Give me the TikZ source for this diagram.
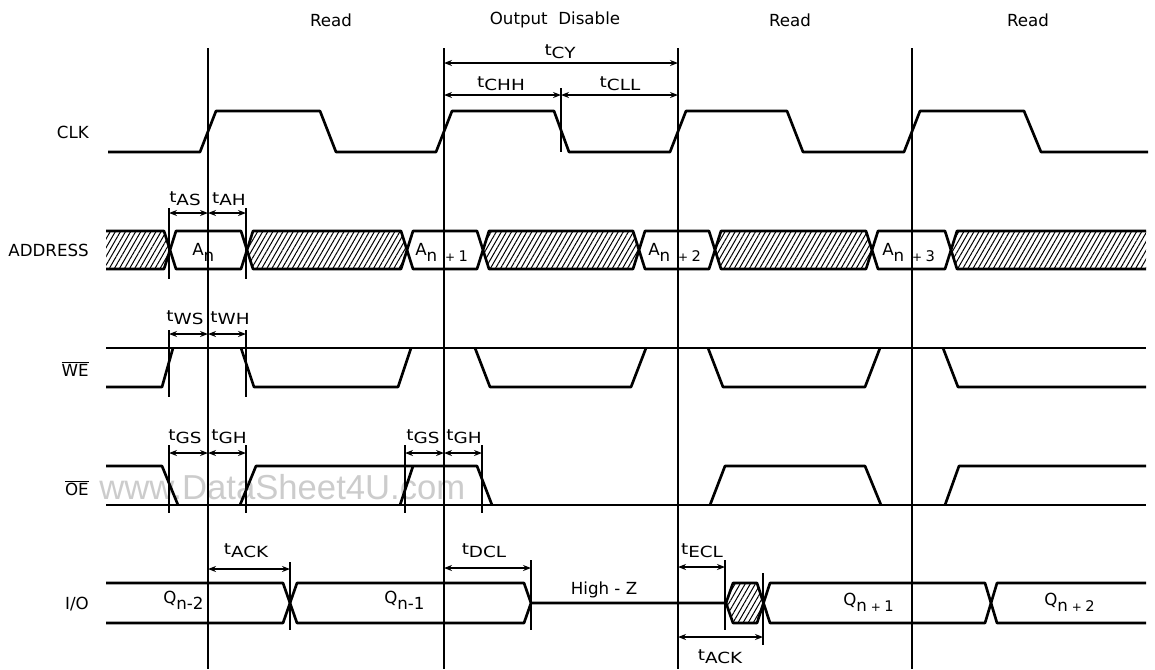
\documentclass[tikz,border=0pt]{standalone}
\usepackage{fontspec}
\setmainfont{DejaVu Sans}
\newfontfamily\tfont[FakeStretch=1.2]{DejaVu Sans}
\newfontfamily\wmfont{Liberation Sans}
\usetikzlibrary{arrows.meta,patterns.meta}
\newcommand\tlb[1]{{\tfont\fontsize{11.5}{11.5}\selectfont\raisebox{2pt}{t}#1}}
\newcommand\vlab[2]{{\fontsize{12.5}{12.5}\selectfont #1\raisebox{-5pt}{#2}}}
\newcommand\vlabp[3]{{\fontsize{12.5}{12.5}\selectfont #1\raisebox{-5pt}{n\hspace{#3}{\fontsize{9}{9}\selectfont+}\hspace{2.5pt}{\fontsize{11}{11}\selectfont #2}}}}
\begin{document}
\begin{tikzpicture}[x=0.75pt,y=-0.75pt,
  sig/.style={line width=2pt,line join=round},
  vline/.style={line width=0.9pt},
  tk/.style={line width=0.8pt},
  dimarr/.style={{Stealth[length=6pt,width=4.5pt]}-{Stealth[length=6pt,width=4.5pt]},line width=1pt},
  lab/.style={font=\fontsize{12.5}{14}\selectfont,inner sep=0pt},
  tl/.style={inner sep=0pt},
  hatch/.style={pattern={Lines[angle=60,distance=3.3pt,line width=0.75pt]}}]
\useasboundingbox (0,0) rectangle (1155,669);
% watermark
\node[anchor=base west,text=black!20,font=\wmfont\fontsize{26}{26}\selectfont,inner sep=0pt] (wm) at (99,499) {www.DataSheet4U.com};
% clock reference lines
\foreach \x/\n in {208/v1,444/v2,678/v3,912/v4}{
  \coordinate (\n t) at (\x,48); \coordinate (\n b) at (\x,669);
  \draw[vline] (\n t) -- (\n b);}
% cycle labels
\node[lab] (r1) at (331,20) {Read};
\node[lab] (od) at (555,20) {Output\ \ Disable};
\node[lab] (r3) at (790,20) {Read};
\node[lab] (r4) at (1028,20) {Read};
% signal names
\node[lab,anchor=east] (nclk) at (89,132) {CLK};
\node[lab,anchor=east] (naddr) at (89,250) {ADDRESS};
\node[lab,anchor=east] (nwe) at (89,369) {$\overline{\mbox{WE}}$};
\node[lab,anchor=east] (noe) at (89,488) {$\overline{\mbox{OE}}$};
\node[lab,anchor=east] (nio) at (89,604) {I/O};
% CLK
\draw[sig] (108,152) -- (200,152) -- (216,111) -- (320,111) -- (336,152) -- (436,152) -- (452,111) -- (554,111) -- (569,152) -- (670,152) -- (686,111) -- (787,111) -- (803,152) -- (904,152) -- (920,111) -- (1024,111) -- (1041,152) -- (1148,152);
\draw[tk] (561,88) -- (561,152);
\draw[dimarr] (444,63) -- (678,63);
\draw[dimarr] (444,95) -- (561,95);
\draw[dimarr] (561,95) -- (678,95);
\node[tl] (tcy) at (560,52) {\tlb{CY}};
\node[tl] (tchh) at (501,84) {\tlb{CHH}};
\node[tl] (tcll) at (620,84) {\tlb{CLL}};
% ADDRESS
\fill[hatch] (106,231) -- (164,231) -- (170,250) -- (164,269) -- (106,269) -- cycle;
\fill[hatch] (247,250) -- (253,231) -- (401,231) -- (407,250) -- (401,269) -- (253,269) -- cycle;
\fill[hatch] (483,250) -- (489,231) -- (633,231) -- (639,250) -- (633,269) -- (489,269) -- cycle;
\fill[hatch] (715,250) -- (721,231) -- (866,231) -- (872,250) -- (866,269) -- (721,269) -- cycle;
\fill[hatch] (951,250) -- (957,231) -- (1146,231) -- (1146,269) -- (957,269) -- cycle;
\draw[sig] (106,231) -- (164,231) -- (176,269) -- (241,269) -- (253,231) -- (401,231) -- (413,269) -- (477,269) -- (489,231) -- (633,231) -- (645,269) -- (709,269) -- (721,231) -- (866,231) -- (878,269) -- (945,269) -- (957,231) -- (1146,231);
\draw[sig] (106,269) -- (164,269) -- (176,231) -- (241,231) -- (253,269) -- (401,269) -- (413,231) -- (477,231) -- (489,269) -- (633,269) -- (645,231) -- (709,231) -- (721,269) -- (866,269) -- (878,231) -- (945,231) -- (957,269) -- (1146,269);
\node[tl,anchor=base west] (a0) at (192,255) {\vlab{A}{n}};
\node[tl,anchor=base west] (a1) at (415,255) {\vlabp{A}{1}{6pt}};
\node[tl,anchor=base west] (a2) at (648,255) {\vlabp{A}{2}{6pt}};
\node[tl,anchor=base west] (a3) at (882,255) {\vlabp{A}{3}{6pt}};
\draw[tk] (169,208) -- (169,279);
\draw[tk] (246,208) -- (246,279);
\draw[dimarr] (169,213) -- (208,213);
\draw[dimarr] (208,213) -- (246,213);
\node[tl] (tas) at (185,199) {\tlb{AS}};
\node[tl] (tah) at (229,199) {\tlb{AH}};
% WE
\draw[sig] (106,348) -- (1146,348);
\draw[sig] (106,387) -- (162,387) -- (173,348);
\draw[sig] (241,348) -- (254,387) -- (398,387) -- (411,348);
\draw[sig] (475,348) -- (490,387) -- (631,387) -- (646,348);
\draw[sig] (708,348) -- (723,387) -- (865,387) -- (880,348);
\draw[sig] (943,348) -- (958,387) -- (1146,387);
\draw[tk] (169,330) -- (169,397);
\draw[tk] (246,330) -- (246,397);
\draw[dimarr] (169,334) -- (208,334);
\draw[dimarr] (208,334) -- (246,334);
\node[tl] (tws) at (185,318) {\tlb{WS}};
\node[tl] (twh) at (230,318) {\tlb{WH}};
% OE
\draw[sig] (106,505) -- (1146,505);
\draw[sig] (106,466) -- (162,466) -- (178,505);
\draw[sig] (240,505) -- (256,466) -- (477,466) -- (492,505);
\draw[sig] (400,505) -- (413,466);
\draw[sig] (710,505) -- (725,466) -- (865,466) -- (881,505);
\draw[sig] (945,505) -- (959,466) -- (1146,466);
\draw[tk] (169,445) -- (169,513);
\draw[tk] (246,445) -- (246,513);
\draw[tk] (405,445) -- (405,513);
\draw[tk] (482,445) -- (482,513);
\draw[dimarr] (169,453) -- (208,453);
\draw[dimarr] (208,453) -- (246,453);
\draw[dimarr] (405,453) -- (444,453);
\draw[dimarr] (444,453) -- (482,453);
\node[tl] (tgs1) at (185,437) {\tlb{GS}};
\node[tl] (tgh1) at (229,437) {\tlb{GH}};
\node[tl] (tgs2) at (423,437) {\tlb{GS}};
\node[tl] (tgh2) at (464,437) {\tlb{GH}};
% I/O
\fill[hatch] (726,603) -- (733,583) -- (757,583) -- (763.5,603) -- (757,623) -- (733,623) -- cycle;
\draw[sig] (106,583) -- (283,583) -- (297,623) -- (524,623) -- (531,603) -- (726,603) -- (733,583) -- (757,583) -- (770,623) -- (985,623) -- (997,583) -- (1146,583);
\draw[sig] (106,623) -- (283,623) -- (297,583) -- (524,583) -- (531,603);
\draw[sig] (726,603) -- (733,623) -- (757,623) -- (770,583) -- (985,583) -- (997,623) -- (1146,623);
\node[tl,anchor=base west] (q0) at (163,603) {\vlab{Q}{n-2}};
\node[tl,anchor=base west] (q1) at (384,603) {\vlab{Q}{n-1}};
\node[tl,anchor=base west] (q2) at (843,605) {\vlabp{Q}{1}{3pt}};
\node[tl,anchor=base west] (q3) at (1044,605) {\vlabp{Q}{2}{3pt}};
\node[lab,anchor=base] (hz) at (604,594) {High - Z};
\draw[tk] (290,562) -- (290,630);
\draw[tk] (531,560) -- (531,630);
\draw[tk] (725,560) -- (725,630);
\draw[tk] (763,573) -- (763,645);
\draw[dimarr] (208,569) -- (290,569);
\draw[dimarr] (444,568) -- (531,568);
\draw[dimarr] (678,567) -- (725,567);
\draw[dimarr] (678,637) -- (763,637);
\node[tl] (tack1) at (246,551) {\tlb{ACK}};
\node[tl] (tdcl) at (484,551) {\tlb{DCL}};
\node[tl] (tecl) at (702,551) {\tlb{ECL}};
\node[tl] (tack2) at (720,657) {\tlb{ACK}};
\end{tikzpicture}
\end{document}
